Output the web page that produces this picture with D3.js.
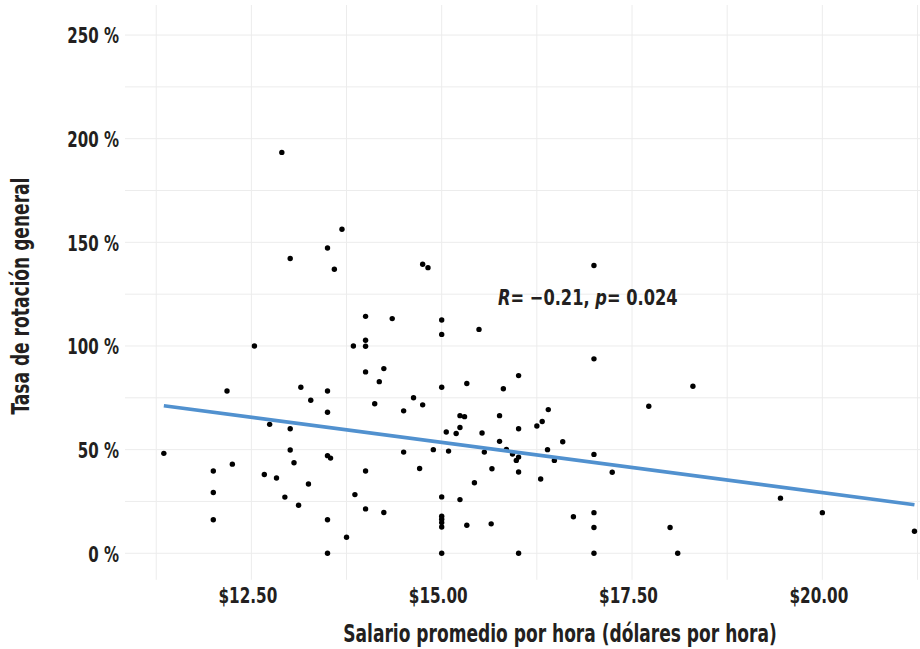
<!DOCTYPE html>
<html>
<head>
<meta charset="utf-8">
<script src="https://cdn.jsdelivr.net/npm/d3@7/dist/d3.min.js"></script>
<style>
  html, body { margin: 0; padding: 0; background: #fff; }
  svg { display: block; }
  .lbl { font-family: "DejaVu Sans Condensed", "Liberation Sans Narrow", "Arial Narrow", sans-serif; font-weight: bold; fill: #231f20; }
</style>
</head>
<body>
<svg id="chart" width="920" height="649"></svg>
<script>
// ---- data ----
const wage = [12.90,13.69,13.50,13.01,13.59,14.00,14.35,12.54,13.84,14.00,14.00,14.00,14.24,14.18,12.18,13.15,13.50,13.28,14.12,13.50,12.74,13.01,11.35,13.01,13.50,13.54,12.25,13.06,12.00,14.00,12.67,12.83,13.25,12.00,13.86,12.94,13.12,14.00,14.24,12.00,13.50,13.75,13.50,14.75,14.82,17.00,15.00,15.00,15.49,17.00,16.01,15.00,15.33,15.81,14.63,14.75,14.50,15.24,15.30,15.76,16.40,16.32,16.25,16.01,15.24,15.06,15.19,15.53,15.76,16.59,14.50,14.89,15.09,15.56,15.85,15.93,16.01,15.98,16.39,16.48,17.00,14.71,15.66,16.01,17.24,15.43,16.30,15.00,15.24,15.00,15.00,15.00,15.00,15.33,15.65,16.73,17.00,17.00,15.00,16.01,17.00,18.30,17.72,19.45,20.00,21.21,18.00,18.10];
const turnover = [193.4,156.3,147.3,142.2,137.0,114.3,113.2,100.0,100.0,102.8,99.9,87.5,89.1,82.8,78.3,80.1,78.3,73.8,72.1,68.0,62.2,60.1,48.2,49.8,47.1,45.9,43.0,43.7,39.7,39.7,38.0,36.3,33.4,29.3,28.3,27.1,23.2,21.4,19.7,16.2,16.2,7.7,0,139.4,137.8,138.8,112.5,105.6,108.0,93.8,85.7,80.1,81.9,79.4,75.0,71.6,68.7,66.4,65.9,66.4,69.3,63.6,61.4,60.1,60.7,58.5,57.8,58.0,54.0,53.8,48.8,50.0,49.3,48.8,50.1,47.9,46.4,44.8,50.0,44.8,47.7,40.9,40.8,39.2,39.1,34.0,35.8,27.2,25.9,17.9,16.4,14.8,12.7,13.5,14.2,17.6,19.6,12.4,0,0,0,80.6,70.9,26.6,19.6,10.6,12.4,0];
// fitted regression line (end points)
const fitWage = [11.35, 21.21];
const fitTurnover = [71.2, 23.4];
// ticks
const xTickValues = [12.5, 15, 17.5, 20];
const xTickLabels = ["$12.50", "$15.00", "$17.50", "$20.00"];
const xGridValues = [11.25, 12.5, 13.75, 15, 16.25, 17.5, 18.75, 20, 21.25];
const yTickValues = [0, 50, 100, 150, 200, 250];
const yTickLabels = ["0 %", "50 %", "100 %", "150 %", "200 %", "250 %"];
const yGridValues = [0, 25, 50, 75, 100, 125, 150, 175, 200, 225, 250];
const stats = { R: "\u22120.21", p: "0.024" };
const xTitle = "Salario promedio por hora (dólares por hora)";
const yTitle = "Tasa de rotación general";

// ---- layout ----
const svg = d3.select("#chart");
const panel = { left: 125, right: 951, top: 5, bottom: 579.8 };
const x = d3.scaleLinear().domain([10.84, 21.69]).range([panel.left, panel.right]);
const y = d3.scaleLinear().domain([-12.8, 264.5]).range([panel.bottom, panel.top]);

// condense text horizontally (the reference uses a bold condensed face)
function condense(sel, f) {
  sel.each(function () {
    const len = this.getComputedTextLength();
    d3.select(this).attr("textLength", len * f).attr("lengthAdjust", "spacingAndGlyphs");
  });
}

// grid
const grid = svg.append("g");
grid.selectAll("line.gx").data(xGridValues).join("line")
  .attr("x1", d => x(d)).attr("x2", d => x(d))
  .attr("y1", panel.top).attr("y2", panel.bottom)
  .attr("stroke", "#ececec").attr("stroke-width", 1);
grid.selectAll("line.gy").data(yGridValues).join("line")
  .attr("x1", panel.left).attr("x2", panel.right)
  .attr("y1", d => y(d)).attr("y2", d => y(d))
  .attr("stroke", "#ececec").attr("stroke-width", 1);

// axes (labels only)
const xAxis = d3.axisBottom(x).tickValues(xTickValues).tickSize(0).tickPadding(0)
  .tickFormat((d, i) => xTickLabels[i]);
const gx = svg.append("g").attr("transform", `translate(0,${panel.bottom})`).call(xAxis);
gx.select(".domain").remove();
gx.selectAll("text").attr("class", "lbl").attr("font-size", 22)
  .attr("dy", null).attr("y", 23).attr("dx", -4).attr("fill", "#231f20")
  .call(condense, 0.77);

const yAxis = d3.axisLeft(y).tickValues(yTickValues).tickSize(0).tickPadding(0)
  .tickFormat((d, i) => yTickLabels[i]);
const gy = svg.append("g").attr("transform", `translate(119,0)`).call(yAxis);
gy.select(".domain").remove();
gy.selectAll("text").attr("class", "lbl").attr("font-size", 22)
  .attr("dy", "0.36em").attr("fill", "#231f20")
  .call(condense, 0.76);

// points
const pts = wage.map((w, i) => ({ w, t: turnover[i] }));
svg.append("g").selectAll("circle").data(pts).join("circle")
  .attr("cx", d => x(d.w)).attr("cy", d => y(d.t)).attr("r", 2.7)
  .attr("fill", "#000");

// regression line
const fitData = fitWage.map((w, i) => [w, fitTurnover[i]]);
svg.append("path").datum(fitData)
  .attr("d", d3.line().x(d => x(d[0])).y(d => y(d[1])))
  .attr("fill", "none").attr("stroke", "#5191cf").attr("stroke-width", 3.6);

// annotation (condensed via horizontal scale)
const ann = svg.append("g").attr("transform", "translate(498,305) scale(0.86,1)")
  .append("text").attr("class", "lbl").attr("font-size", 21).attr("x", 0).attr("y", 0);
ann.append("tspan").attr("font-style", "italic").text("R");
ann.append("tspan").text("= " + stats.R + ", ");
ann.append("tspan").attr("font-style", "italic").text("p");
ann.append("tspan").text("= " + stats.p);

// axis titles
svg.append("text").attr("class", "lbl").attr("font-size", 24)
  .attr("x", 560).attr("y", 642).attr("text-anchor", "middle").text(xTitle)
  .call(condense, 0.79);
svg.append("text").attr("class", "lbl").attr("font-size", 24)
  .attr("transform", "translate(29,296) rotate(-90)").attr("text-anchor", "middle").text(yTitle)
  .call(condense, 0.79);
</script>
</body>
</html>
